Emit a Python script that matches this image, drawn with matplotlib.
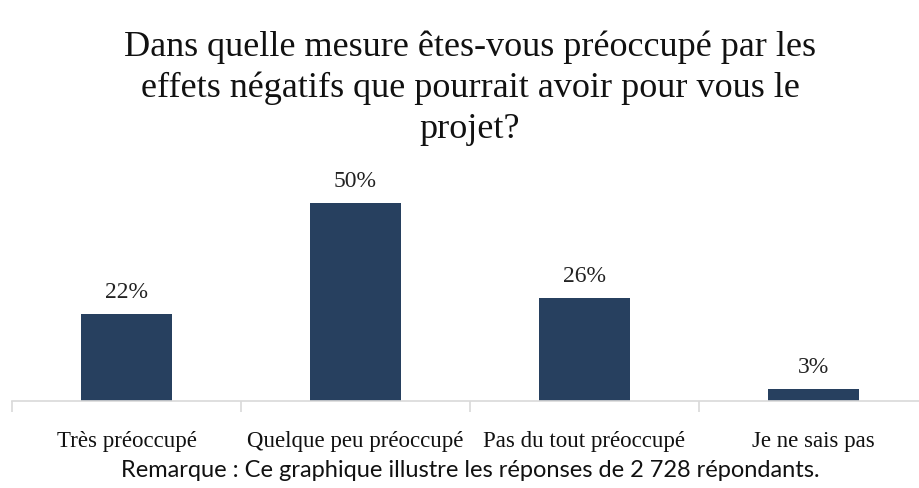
import matplotlib.pyplot as plt

# data
categories = ["Très préoccupé", "Quelque peu préoccupé", "Pas du tout préoccupé", "Je ne sais pas"]
values = [22, 50, 26, 3]
labels = ["22%", "50%", "26%", "3%"]

title = "Dans quelle mesure êtes-vous préoccupé par les\neffets négatifs que pourrait avoir pour vous le\nprojet?"
note = "Remarque : Ce graphique illustre les réponses de 2 728 répondants."

serif = "Liberation Serif"
bar_color = "#27405f"

fig = plt.figure(figsize=(9.2, 4.89), dpi=100)
ax = fig.add_axes([12 / 920, 87 / 489, 916 / 920, 218 / 489])

x = list(range(len(categories)))
bars = ax.bar(x, values, width=0.4, color=bar_color)

for xi, v, lab in zip(x, values, labels):
    ax.text(xi, v + 3, lab, ha="center", va="bottom", fontsize=17, family=serif, color="#222222")

ax.set_xlim(-0.5, 3.5)
ax.set_ylim(0, 55)

for s in ["top", "right", "left"]:
    ax.spines[s].set_visible(False)
ax.spines["bottom"].set_color("#d9d9d9")
ax.spines["bottom"].set_linewidth(1.2)

ax.set_yticks([])
ax.set_xticks([-0.5, 0.5, 1.5, 2.5, 3.5])
ax.set_xticklabels([])
ax.tick_params(axis="x", length=8, width=1.2, color="#d9d9d9")
ax.set_xticks(x, minor=True)
ax.set_xticklabels(categories, minor=True, fontsize=16.5, family=serif, color="#111111")
ax.tick_params(axis="x", which="minor", length=0, pad=21)

fig.text(0.511, 0.938, title, ha="center", va="top", fontsize=26, family=serif,
         linespacing=1.32, color="#111111")
fig.text(0.511, 0.038, note, ha="center", va="center", fontsize=17, family="Lato", color="#111111")

fig.savefig("out.png", dpi=100)
